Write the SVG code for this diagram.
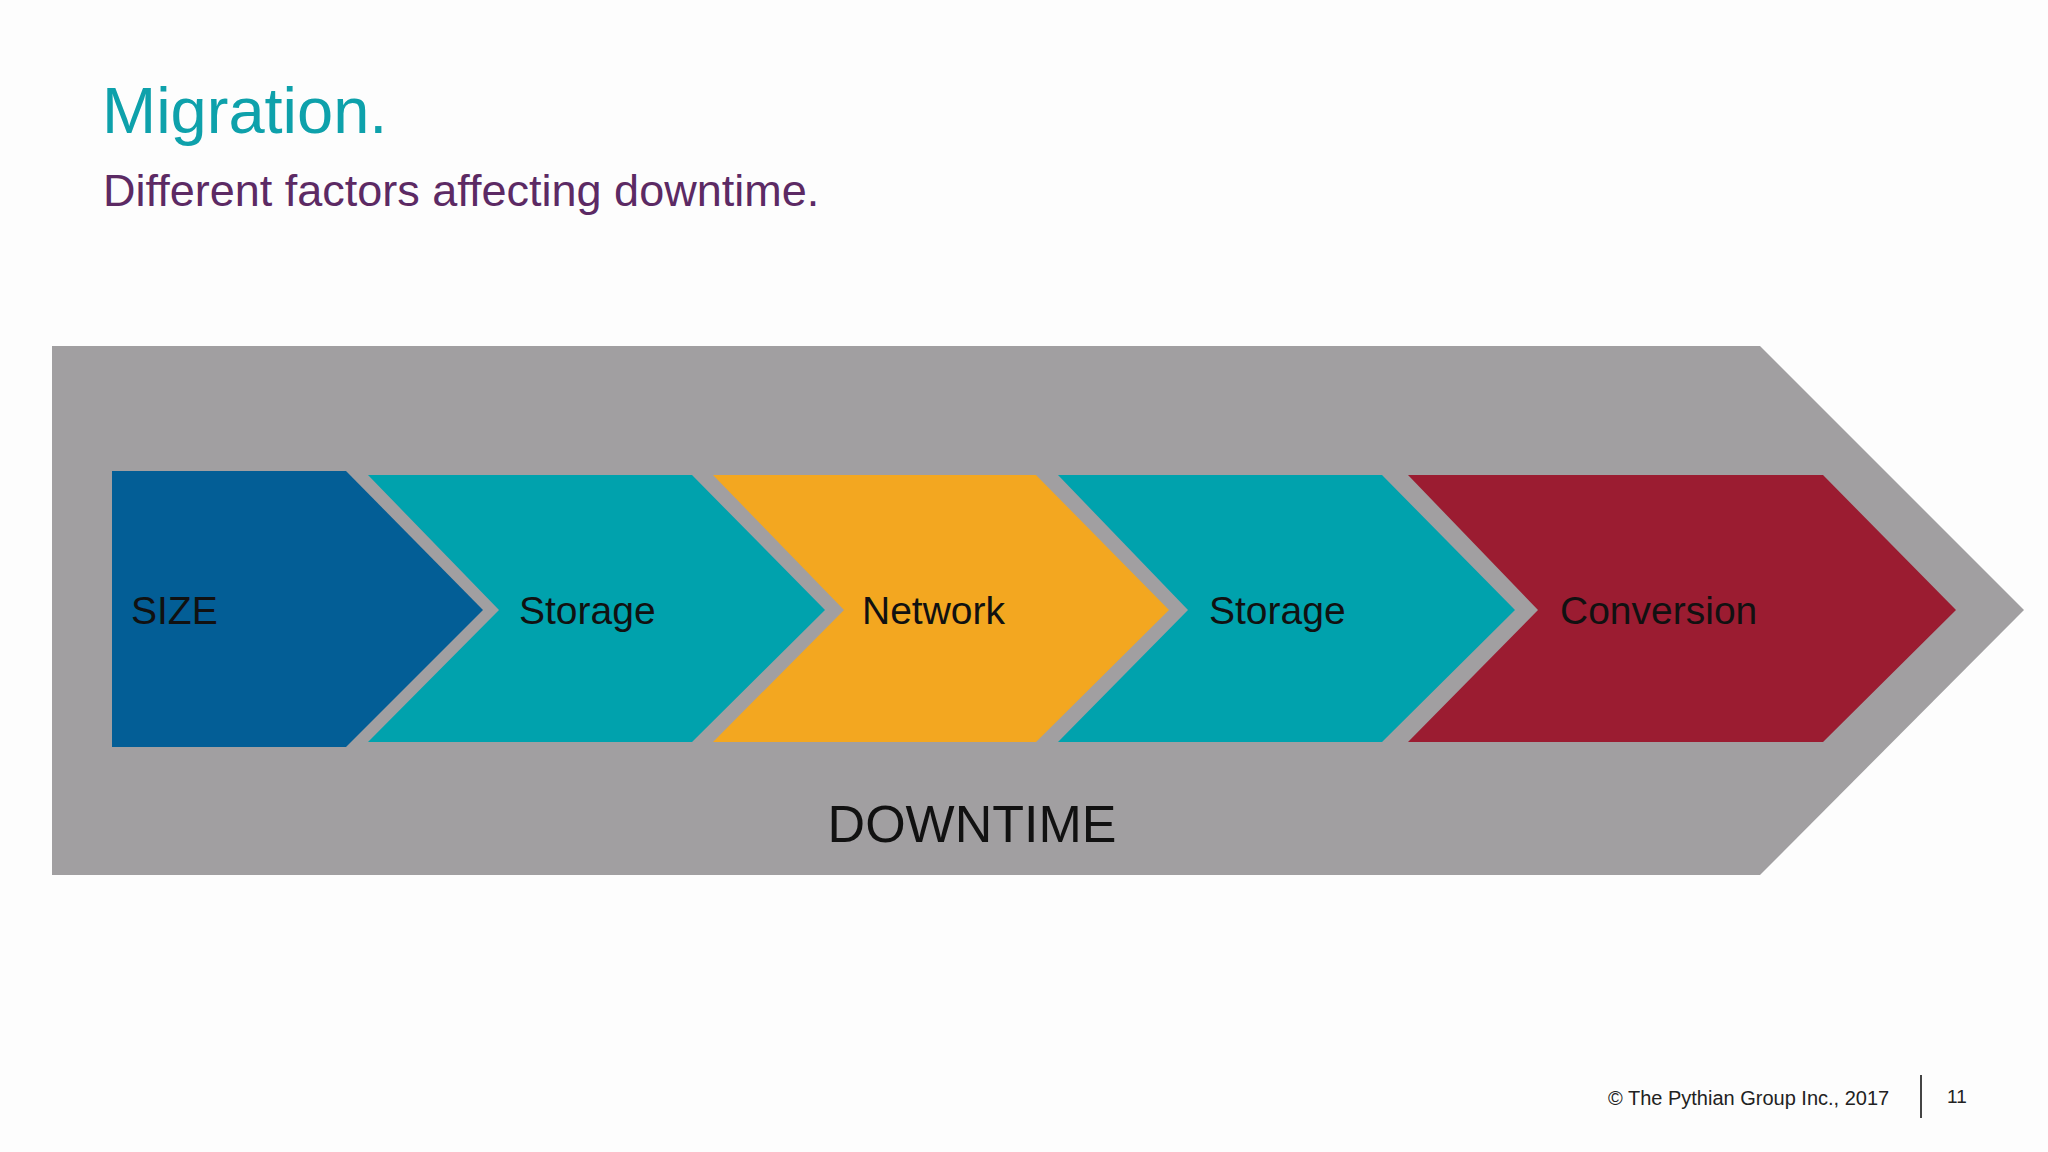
<svg xmlns="http://www.w3.org/2000/svg" width="2048" height="1152" viewBox="0 0 2048 1152">
<style>
text{font-family:"Liberation Sans",Arial,sans-serif}
.lbl{font-size:39px;fill:#111}
</style>
<rect width="2048" height="1152" fill="#fdfdfd"/>
<text x="102" y="133" font-size="65" fill="#0ea1ab">Migration.</text>
<text x="103" y="206" font-size="45" fill="#5c2a64">Different factors affecting downtime.</text>
<g id="downtime"><polygon points="52,346 1760,346 2024,610 1760,875 52,875" fill="#a19fa1"/>
<text x="972" y="842" text-anchor="middle" font-size="52" fill="#111">DOWNTIME</text></g>
<g id="size"><polygon points="112,471 346,471 483,610 346,747 112,747" fill="#035e96"/><text class="lbl" x="131" y="624">SIZE</text></g>
<g id="storage1"><polygon points="368,475 692,475 825,610 692,742 368,742 499,610" fill="#00a2ad"/><text class="lbl" x="519" y="624">Storage</text></g>
<g id="network"><polygon points="713,475 1036,475 1169,610 1036,742 713,742 844,610" fill="#f3a720"/><text class="lbl" x="862" y="624">Network</text></g>
<g id="storage2"><polygon points="1058,475 1382,475 1515,610 1382,742 1058,742 1188,610" fill="#00a2ad"/><text class="lbl" x="1209" y="624">Storage</text></g>
<g id="conversion"><polygon points="1408,475 1823,475 1956,610 1823,742 1408,742 1538,610" fill="#9b1c31"/><text class="lbl" x="1560" y="624">Conversion</text></g>
<g id="connectors"/>
<text x="1608" y="1105" font-size="20" fill="#222">©  The Pythian Group Inc., 2017</text>
<line x1="1921" y1="1075" x2="1921" y2="1118" stroke="#444" stroke-width="2"/>
<text x="1947" y="1103" font-size="19" fill="#222">11</text>
</svg>
